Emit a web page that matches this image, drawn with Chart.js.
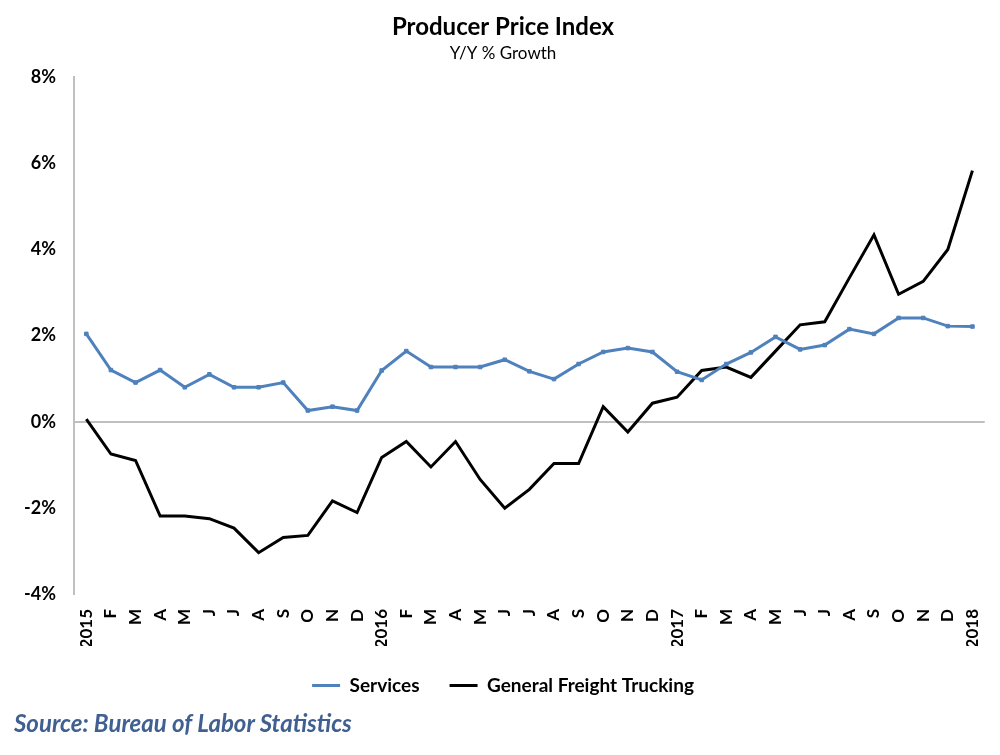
<!DOCTYPE html>
<html>
<head>
<meta charset="utf-8">
<script src="https://cdn.jsdelivr.net/npm/chart.js@4/dist/chart.umd.min.js"></script>
<style>
  html, body { margin: 0; padding: 0; background: #fff; }
  #wrap { position: relative; width: 1000px; height: 755px; }
  #source {
    position: absolute; left: 14px; top: 708px;
    font: italic bold 24px Lato, sans-serif; color: #3f6090;
  }
</style>
</head>
<body>
<div id="wrap">
  <canvas id="ppi" width="1000" height="755"></canvas>
  <div id="source">Source: Bureau of Labor Statistics</div>
</div>
<script>
// month labels, Jan 2015 .. Jan 2018
var months = [
  "2015", "F", "M", "A", "M", "J", "J", "A", "S", "O", "N", "D",
  "2016", "F", "M", "A", "M", "J", "J", "A", "S", "O", "N", "D",
  "2017", "F", "M", "A", "M", "J", "J", "A", "S", "O", "N", "D",
  "2018"
];

// y/y % growth
var services = [
  2.04, 1.20, 0.91, 1.20, 0.80, 1.10, 0.80, 0.80, 0.91, 0.26, 0.35, 0.26,
  1.19, 1.64, 1.27, 1.27, 1.27, 1.44, 1.17, 0.99, 1.34, 1.62, 1.71, 1.62,
  1.16, 0.97, 1.34, 1.61, 1.97, 1.68, 1.78, 2.15, 2.04, 2.41, 2.41, 2.22,
  2.21
];
var trucking = [
  0.06, -0.75, -0.90, -2.19, -2.19, -2.25, -2.47, -3.04, -2.69, -2.64, -1.84, -2.11,
  -0.83, -0.46, -1.05, -0.46, -1.34, -2.01, -1.57, -0.97, -0.97, 0.35, -0.24, 0.43,
  0.57, 1.19, 1.27, 1.03, 1.64, 2.25, 2.32, 3.34, 4.34, 2.96, 3.26, 4.00,
  5.83
];

var yTicks = [-4, -2, 0, 2, 4, 6, 8];

var font = "Lato, 'Open Sans', sans-serif";
var axisGrey = "#bfbfbf";

new Chart(document.getElementById("ppi"), {
  type: "line",
  data: {
    labels: months,
    datasets: [
      {
        label: "Services",
        data: services,
        borderColor: "#4f81bd",
        backgroundColor: "#4f81bd",
        borderWidth: 3,
        pointStyle: "rect",
        pointRadius: 2.5,
        pointBorderWidth: 1,
        tension: 0
      },
      {
        label: "General Freight Trucking",
        data: trucking,
        borderColor: "#000",
        backgroundColor: "#000",
        borderWidth: 3,
        pointRadius: 0,
        tension: 0
      }
    ]
  },
  options: {
    responsive: false,
    animation: false,
    layout: { padding: { top: 13, left: 18, right: 12, bottom: 50 } },
    plugins: {
      title: {
        display: true,
        text: "Producer Price Index",
        color: "#000",
        font: { family: font, size: 24, weight: "bold" },
        padding: { top: 0, bottom: 2 }
      },
      subtitle: {
        display: true,
        text: "Y/Y % Growth",
        color: "#000",
        font: { family: font, size: 17 },
        padding: { top: 0, bottom: 13 }
      },
      legend: {
        position: "bottom",
        labels: {
          color: "#000",
          font: { family: font, size: 19, weight: "bold" },
          usePointStyle: true,
          pointStyle: "line",
          pointStyleWidth: 28,
          padding: 30,
          generateLabels: function (chart) {
            var items = Chart.defaults.plugins.legend.labels.generateLabels(chart);
            items.forEach(function (it) { it.lineWidth = 3; });
            return items;
          }
        }
      },
      tooltip: { enabled: false }
    },
    scales: {
      x: {
        offset: true,
        grid: { display: false },
        border: { display: false },
        ticks: {
          color: "#000",
          font: { family: font, size: 17, weight: "bold" },
          minRotation: 90,
          maxRotation: 90,
          autoSkip: false,
          padding: 7
        },
        afterFit: function (s) { s.height = 52; }
      },
      y: {
        min: -4,
        max: 8,
        afterBuildTicks: function (s) {
          s.ticks = yTicks.map(function (v) { return { value: v }; });
        },
        grid: {
          drawTicks: false,
          lineWidth: 2,
          color: function (ctx) {
            return ctx.tick && ctx.tick.value === 0 ? axisGrey : "rgba(0,0,0,0)";
          }
        },
        border: { display: true, color: axisGrey, width: 2 },
        ticks: {
          color: "#000",
          font: { family: font, size: 18, weight: "bold" },
          padding: 18,
          callback: function (v) { return v + "%"; }
        },
        afterFit: function (s) { s.width = 56; }
      }
    }
  }
});
</script>
</body>
</html>
